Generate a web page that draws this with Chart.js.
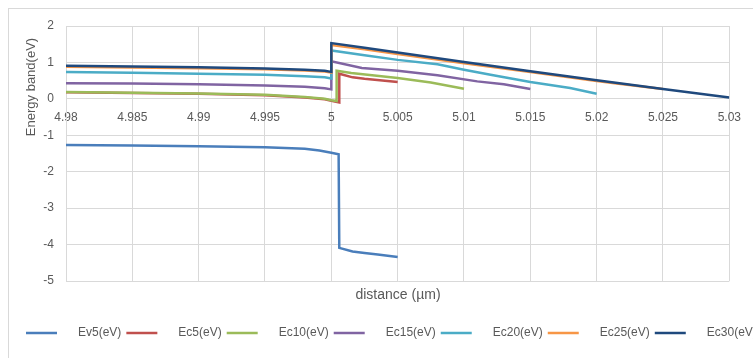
<!DOCTYPE html>
<html>
<head>
<meta charset="utf-8">
<script src="https://cdn.jsdelivr.net/npm/chart.js@4/dist/chart.umd.min.js"></script>
<style>
  body { margin: 0; background: #fff; }
  #wrap { width: 753px; height: 358px; }
</style>
</head>
<body>
<div id="wrap"><canvas id="myChart" width="753" height="358"></canvas></div>
<script>
// series names and colours
const seriesNames = ["Ev5(eV)", "Ec5(eV)", "Ec10(eV)", "Ec15(eV)", "Ec20(eV)", "Ec25(eV)", "Ec30(eV)"];
const seriesColors = ["#4A7EBB", "#C0504D", "#9BBB59", "#8064A2", "#4BACC6", "#F79646", "#1F497D"];

// distance (µm) / energy (eV)
const ev5X = [4.98, 4.985, 4.99, 4.995, 4.998, 4.9991, 5.0, 5.00055, 5.0006, 5.0016, 5.0025, 5.0035, 5.005];
const ev5Y = [-1.27, -1.28, -1.30, -1.33, -1.37, -1.42, -1.48, -1.52, -4.09, -4.19, -4.23, -4.27, -4.34];

const ec5X = [4.98, 4.985, 4.99, 4.995, 4.998, 4.9995, 5.0, 5.0006, 5.0006, 5.0016, 5.0025, 5.005];
const ec5Y = [0.18, 0.16, 0.14, 0.10, 0.04, -0.01, -0.05, -0.10, 0.69, 0.59, 0.55, 0.46];

const ec10X = [4.98, 4.985, 4.99, 4.995, 4.998, 4.9995, 5.0, 5.0004, 5.0004, 5.0015, 5.005, 5.0075, 5.01];
const ec10Y = [0.19, 0.17, 0.15, 0.11, 0.05, 0.0, -0.04, -0.06, 0.77, 0.71, 0.57, 0.45, 0.28];

const ec15X = [4.98, 4.985, 4.99, 4.995, 4.998, 4.9995, 5.0, 5.0, 5.0023, 5.005, 5.008, 5.011, 5.013, 5.015];
const ec15Y = [0.43, 0.42, 0.40, 0.37, 0.33, 0.29, 0.26, 1.03, 0.85, 0.77, 0.65, 0.48, 0.40, 0.27];

const ec20X = [4.98, 4.985, 4.99, 4.995, 4.998, 4.9995, 5.0, 5.0, 5.0025, 5.005, 5.008, 5.01, 5.012, 5.015, 5.018, 5.02];
const ec20Y = [0.74, 0.72, 0.69, 0.66, 0.62, 0.59, 0.56, 1.33, 1.20, 1.07, 0.95, 0.80, 0.66, 0.46, 0.30, 0.14];

const ec25X = [4.98, 4.985, 4.99, 4.995, 4.998, 4.9995, 5.0, 5.0, 5.0025, 5.005, 5.01, 5.015, 5.02, 5.0215, 5.025];
const ec25Y = [0.88, 0.86, 0.84, 0.81, 0.78, 0.75, 0.72, 1.48, 1.36, 1.23, 0.98, 0.74, 0.49, 0.42, 0.27];

const ec30X = [4.98, 4.985, 4.99, 4.995, 4.998, 4.9995, 5.0, 5.0, 5.0025, 5.005, 5.01, 5.015, 5.02, 5.025, 5.03];
const ec30Y = [0.91, 0.89, 0.87, 0.83, 0.80, 0.77, 0.74, 1.53, 1.40, 1.27, 1.01, 0.76, 0.51, 0.27, 0.04];

const allX = [ev5X, ec5X, ec10X, ec15X, ec20X, ec25X, ec30X];
const allY = [ev5Y, ec5Y, ec10Y, ec15Y, ec20Y, ec25Y, ec30Y];

const textColor = "#595959";
const gridColor = "#d9d9d9";
const fontFamily = "'Liberation Sans', Arial, sans-serif";

// border, axis titles and the legend drawn like the original
const decorPlugin = {
  id: "decor",
  beforeDraw(chart) {
    const ctx = chart.ctx;
    ctx.save();
    ctx.strokeStyle = gridColor;
    ctx.lineWidth = 1;
    ctx.strokeRect(8.5, 8.5, 760, 360);
    ctx.restore();
  },
  afterDraw(chart) {
    const ctx = chart.ctx;
    ctx.save();
    ctx.fillStyle = textColor;

    // y title
    ctx.font = "13px " + fontFamily;
    ctx.textAlign = "center";
    ctx.textBaseline = "middle";
    ctx.translate(31, 87);
    ctx.rotate(-Math.PI / 2);
    ctx.fillText("Energy band(eV)", 0, 0);
    ctx.setTransform(1, 0, 0, 1, 0, 0);

    // x title
    ctx.font = "14px " + fontFamily;
    ctx.fillText("distance (\u00b5m)", 398, 295);

    // legend
    ctx.font = "12px " + fontFamily;
    ctx.textAlign = "left";
    let x = 26;
    const y = 333;
    chart.data.datasets.forEach((ds) => {
      ctx.strokeStyle = ds.borderColor;
      ctx.lineWidth = 2.5;
      ctx.beginPath();
      ctx.moveTo(x, y);
      ctx.lineTo(x + 31, y);
      ctx.stroke();
      ctx.fillStyle = textColor;
      ctx.fillText(ds.label, x + 52, y);
      x += 52 + ctx.measureText(ds.label).width + 5;
    });
    ctx.restore();
  },
};

const datasets = seriesNames.map((name, i) => ({
  label: name,
  data: allX[i].map((xv, j) => ({ x: xv, y: allY[i][j] })),
  borderColor: seriesColors[i],
  backgroundColor: seriesColors[i],
  borderWidth: 2.5,
  pointRadius: 0,
  tension: 0,
  fill: false,
  order: seriesNames.length - i,
}));

new Chart(document.getElementById("myChart").getContext("2d"), {
  type: "line",
  data: { datasets: datasets },
  plugins: [decorPlugin],
  options: {
    responsive: false,
    animation: false,
    layout: { padding: { left: 0, top: 26, right: 22, bottom: 77 } },
    plugins: {
      legend: { display: false },
      tooltip: { enabled: false },
    },
    scales: {
      x: {
        type: "linear",
        position: { y: 0 },
        min: 4.98,
        max: 5.03,
        afterFit: (scale) => { scale.height = 0; },
        ticks: {
          stepSize: 0.005,
          padding: 12,
          color: textColor,
          font: { size: 12, family: fontFamily },
          maxRotation: 0,
          callback: (v) => String(parseFloat(Number(v).toFixed(3))),
        },
        grid: { color: gridColor, drawTicks: false },
        border: { color: gridColor },
      },
      y: {
        min: -5,
        max: 2,
        afterFit: (scale) => { scale.width = 66; },
        ticks: {
          stepSize: 1,
          padding: 12,
          color: textColor,
          font: { size: 12, family: fontFamily },
        },
        grid: { color: gridColor, drawTicks: false },
        border: { color: gridColor },
      },
    },
  },
});
</script>
</body>
</html>
